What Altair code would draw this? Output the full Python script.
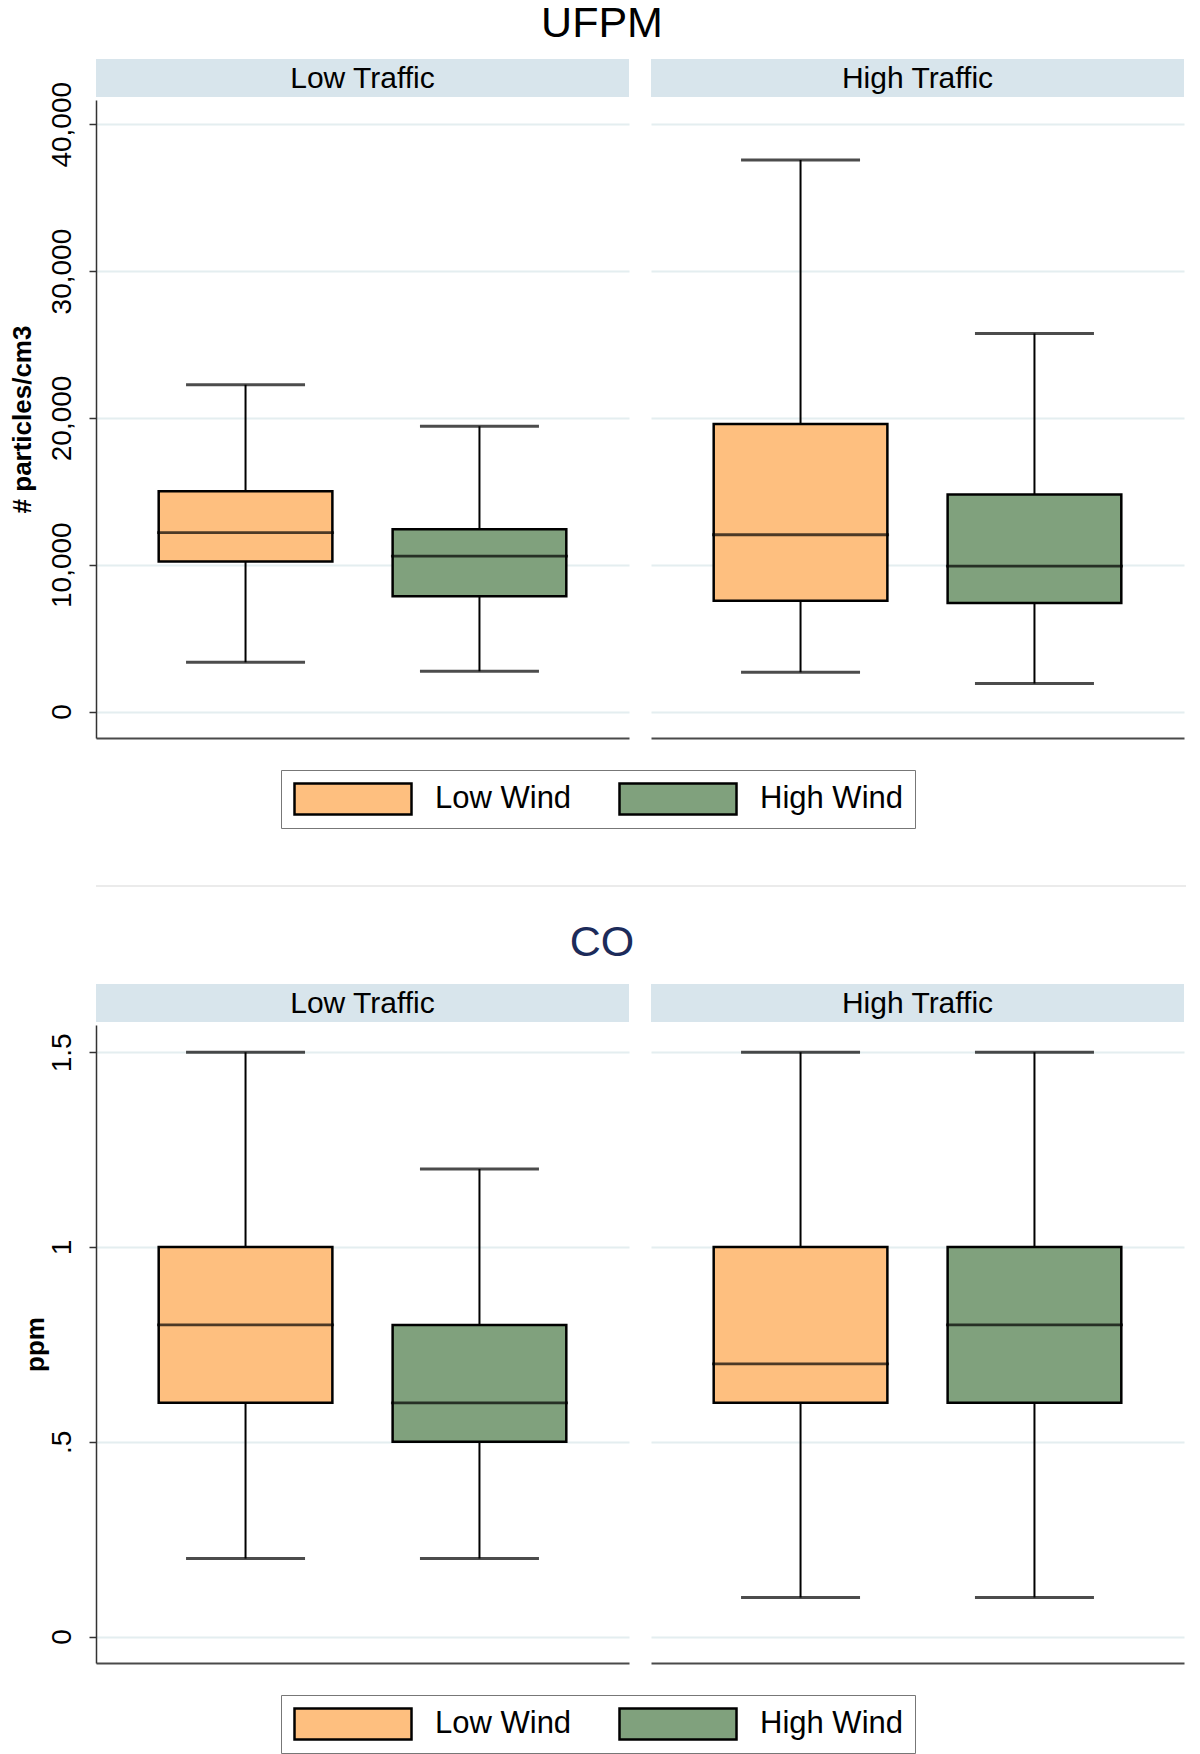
import altair as alt
import pandas as pd

# ---------------- data ----------------
traffic_levels = ["Low Traffic", "High Traffic"]
wind_levels = ["Low Wind", "High Wind"]
box_traffic = ["Low Traffic", "Low Traffic", "High Traffic", "High Traffic"]
box_wind = ["Low Wind", "High Wind", "Low Wind", "High Wind"]

ufpm_lower = [3350, 2740, 2670, 1900]
ufpm_q1 = [10210, 7850, 7540, 7390]
ufpm_median = [12190, 10590, 12040, 9900]
ufpm_q3 = [15010, 12420, 19580, 14780]
ufpm_upper = [22250, 19430, 37560, 25750]
ufpm_ticks = [0, 10000, 20000, 30000, 40000]
ufpm_tick_labels = ["0", "10,000", "20,000", "30,000", "40,000"]

co_lower = [0.2, 0.2, 0.1, 0.1]
co_q1 = [0.6, 0.5, 0.6, 0.6]
co_median = [0.8, 0.6, 0.7, 0.8]
co_q3 = [1.0, 0.8, 1.0, 1.0]
co_upper = [1.5, 1.2, 1.5, 1.5]
co_ticks = [0, 0.5, 1, 1.5]
co_tick_labels = ["0", ".5", "1", "1.5"]

# ---------------- style ----------------
FONT = "Liberation Sans"
ORANGE = "#FEBF7F"
GREEN = "#80A17D"
STRIP = "#D8E5EC"
GRID = "#E4EEF0"
W = 533
H = 638
NBSP = "\u00a0"


def make_df(lower, q1, med, q3, upper):
    return pd.DataFrame({
        "traffic": box_traffic, "wind": box_wind,
        "lower": lower, "q1": q1, "median": med, "q3": q3, "upper": upper,
    })


def label_expr(ticks, labels):
    expr = "''"
    for t, l in reversed(list(zip(ticks, labels))):
        expr = f"abs(datum.value - ({t})) < 1e-9 ? '{l}' : ({expr})"
    return expr


def make_legend(lx, ly):
    return alt.Legend(
        title=None, orient="none", legendX=lx, legendY=ly, direction="horizontal",
        symbolType="M-1,-0.265L1,-0.265L1,0.265L-1,0.265Z", symbolSize=13689,
        symbolStrokeColor="black", symbolStrokeWidth=2.5, clipHeight=34,
        labelFont=FONT, labelFontSize=31, labelColor="black", labelOffset=22,
        labelExpr=f"datum.label == '{wind_levels[-1]}' ? datum.label + '{NBSP}{NBSP}' : datum.label",
        columnPadding=46, padding=12, strokeColor="#777777", fillColor="white",
        cornerRadius=0,
    )


def panel(df, traffic, domain, ticks, labels, ytitle, first, legend, title_pad,
          title=None, title_color="black", title_y=-63):
    sub = df[df.traffic == traffic]
    xscale = alt.Scale(type="band", domain=wind_levels, paddingInner=0.2575, paddingOuter=0.268)
    xenc = alt.X("wind:N", scale=xscale,
                 axis=alt.Axis(labels=False, ticks=False, title=None, domain=True,
                               domainColor="#4a4a4a", domainWidth=2, grid=False))
    yscale = alt.Scale(domain=domain, nice=False, zero=False)
    if first:
        yaxis = alt.Axis(values=ticks, labelExpr=label_expr(ticks, labels), labelAngle=270,
                         labelAlign="center", labelBaseline="bottom", labelFont=FONT,
                         labelFontSize=28, labelColor="black", labelPadding=13, tickSize=7,
                         tickColor="#333333", tickWidth=1.5, domainColor="#333333", domainWidth=1.5,
                         grid=True, gridColor=GRID, gridWidth=2, title=ytitle, titleFont=FONT,
                         titleFontSize=26, titleFontWeight="bold", titleColor="black",
                         titlePadding=title_pad)
    else:
        yaxis = alt.Axis(values=ticks, labels=False, ticks=False, domain=False, title=None,
                         grid=True, gridColor=GRID, gridWidth=2)
    base = alt.Chart(sub)
    strip_df = pd.DataFrame({"traffic": [traffic]})
    strip = alt.Chart(strip_df).mark_rect(fill=STRIP).encode(
        x=alt.value(0), x2=alt.value(W), y=alt.value(-41), y2=alt.value(-3))
    strip_txt = alt.Chart(strip_df).mark_text(font=FONT, fontSize=30, color="black",
                                              align="center", baseline="middle").encode(
        x=alt.value(W / 2), y=alt.value(-21), text="traffic:N")
    whisk = base.mark_rule(color="black", strokeWidth=2).encode(
        x=xenc, y=alt.Y("lower:Q", scale=yscale, axis=yaxis), y2="upper:Q")
    box = base.mark_bar(stroke="black", strokeWidth=2.5).encode(
        x=xenc, y=alt.Y("q1:Q", scale=yscale, axis=yaxis), y2="q3:Q",
        color=alt.Color("wind:N", scale=alt.Scale(domain=wind_levels, range=[ORANGE, GREEN]),
                        legend=legend))
    med = base.mark_tick(color="black", thickness=2.8, size=177).encode(
        x=xenc, y=alt.Y("median:Q", scale=yscale, axis=yaxis))
    cap_lo = base.mark_tick(color="black", thickness=3, size=119).encode(
        x=xenc, y=alt.Y("lower:Q", scale=yscale, axis=yaxis))
    cap_hi = base.mark_tick(color="black", thickness=3, size=119).encode(
        x=xenc, y=alt.Y("upper:Q", scale=yscale, axis=yaxis))
    layers = [strip, strip_txt, whisk, box, med, cap_lo, cap_hi]
    if title is not None:
        tdf = pd.DataFrame({"title": [title]})
        layers.append(alt.Chart(tdf).mark_text(font=FONT, fontSize=43, color=title_color,
                                               align="center", baseline="alphabetic").encode(
            x=alt.value(506), y=alt.value(title_y), text="title:N"))
    return alt.layer(*layers).properties(width=W, height=H)


def block(df, title, title_color, domain, ticks, labels, ytitle, title_pad, title_y):
    leg = make_legend(185, 670)
    left = panel(df, traffic_levels[0], domain, ticks, labels, ytitle, True, leg, title_pad,
                 title=title, title_color=title_color, title_y=title_y)
    right = panel(df, traffic_levels[1], domain, ticks, labels, ytitle, False, leg, title_pad)
    return alt.hconcat(left, right, spacing=22, bounds="flush").resolve_scale(color="shared")


ufpm_df = make_df(ufpm_lower, ufpm_q1, ufpm_median, ufpm_q3, ufpm_upper)
co_df = make_df(co_lower, co_q1, co_median, co_q3, co_upper)

top = block(ufpm_df, "UFPM", "black", [-1805, 41655], ufpm_ticks, ufpm_tick_labels,
            "# particles/cm3", 13, -63)
bottom = block(co_df, "CO", "#1C2B5A", [-0.068, 1.57], co_ticks, co_tick_labels, "ppm", 0, -69)

sep = alt.Chart(pd.DataFrame({"k": [1]})).mark_rule(color="#EBEBEB", strokeWidth=2).encode(
    x=alt.value(0), x2=alt.value(1090), y=alt.value(57)).properties(width=1090, height=93)

chart = alt.vconcat(top, sep, bottom, spacing=0).resolve_scale(color="independent").properties(
    padding={"left": 0, "top": -5, "right": 5, "bottom": 2}
).configure_view(stroke=None)

chart.save("out.html", embed_options={"renderer": "svg", "actions": False})
